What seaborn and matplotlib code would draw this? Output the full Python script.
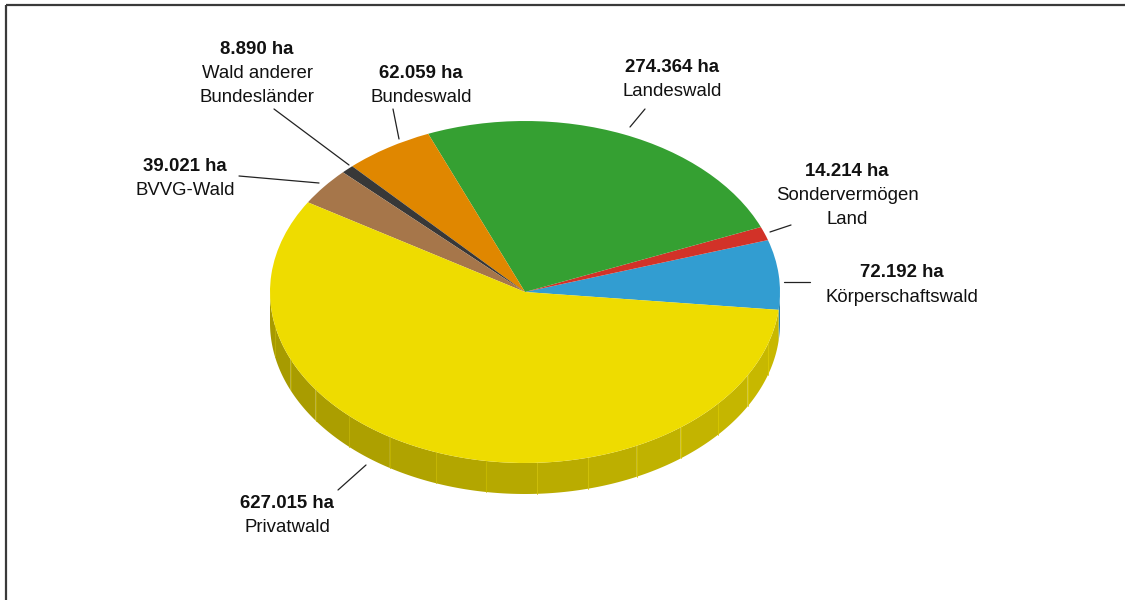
import matplotlib
matplotlib.use('Agg')
import matplotlib.pyplot as plt
import seaborn as sns
import numpy as np
from matplotlib.colors import to_rgb

# data, counterclockwise from the right-hand side
names = ["Körperschaftswald", "Sondervermögen\nLand", "Landeswald", "Bundeswald",
         "Wald anderer\nBundesländer", "BVVG-Wald", "Privatwald"]
values = [72192, 14214, 274364, 62059, 8890, 39021, 627015]
value_labels = ["72.192 ha", "14.214 ha", "274.364 ha", "62.059 ha",
                "8.890 ha", "39.021 ha", "627.015 ha"]
colors = ["#329dd1", "#d23228", "#35a032", "#e08700", "#383838", "#a6764a", "#eedc00"]

# layout (pixels, y down)
W, H = 1125, 600
CX, CY = 525, 292
RX, RY = 255, 171
DEPTH = 31
START = -6
S = RX / RY

label_pos = [(902, 273), (847, 171), (672, 67), (421, 73), (257, 50), (185, 167), (287, 503)]
leader = [((784, 282), (810, 282)), ((770, 232), (791, 225)), ((630, 127), (645, 109)),
          ((399, 139), (393, 109)), ((349, 165), (274, 109)), ((319, 183), (239, 176)),
          ((366, 465), (338, 490))]

sns.set_theme(style="white")
plt.rcParams['font.family'] = ['Liberation Sans', 'DejaVu Sans']


def d(px, py):
    return px, (H - py) * S


def shade(c, f):
    r, g, b = to_rgb(c)
    return (min(r * f, 1), min(g * f, 1), min(b * f, 1))


fig = plt.figure(figsize=(W / 100, H / 100), dpi=100)
ax = fig.add_axes([0, 0, 1, 1])

cx, cy = d(CX, CY)
dep = DEPTH * S

# side wall of the cylinder (front half only)
fracs = np.array(values) / np.sum(values)
edges = START + 360 * np.concatenate([[0], np.cumsum(fracs)])
for i, col in enumerate(colors):
    a0, a1 = edges[i], edges[i + 1]
    for lo, hi in [(-180, 0), (180, 360)]:
        s0, s1 = max(a0, lo), min(a1, hi)
        if s1 <= s0:
            continue
        steps = np.linspace(s0, s1, max(2, int((s1 - s0) / 12) + 2))
        for j, (t0, t1) in enumerate(zip(steps[:-1], steps[1:])):
            t = np.radians(np.linspace(t0, t1, 16))
            xs = cx + RX * np.cos(t)
            ys = cy + RX * np.sin(t)
            px = np.concatenate([xs, xs[::-1]])
            py = np.concatenate([ys, ys[::-1] - dep])
            f = 0.77 + 0.07 * np.cos(np.radians((t0 + t1) / 2))
            ax.fill(px, py, color=shade(col, f), zorder=1, lw=0)
            if j > 0:
                ax.plot([xs[0], xs[0]], [ys[0], ys[0] - dep], color=shade(col, f + 0.08),
                        lw=0.6, zorder=1.5)

# top face
ax.pie(values, colors=colors, startangle=START, counterclock=True, radius=RX,
       center=(cx, cy), wedgeprops=dict(linewidth=0, zorder=3), frame=True)

ax.set_xlim(0, W)
ax.set_ylim(0, H * S)
ax.set_aspect('auto')
ax.axis('off')

# labels and leader lines
for name, val, (lx, ly), (p0, p1) in zip(names, value_labels, label_pos, leader):
    ax.text(*d(lx, ly), val, ha='center', va='center', fontsize=13.4,
            fontweight='bold', color='#111111', zorder=5)
    for k, line in enumerate(name.split("\n")):
        ax.text(*d(lx, ly + 24 * (k + 1)), line, ha='center', va='center',
                fontsize=13.4, color='#111111', zorder=5)
    x0, y0 = d(*p0)
    x1, y1 = d(*p1)
    ax.plot([x0, x1], [y0, y1], color='#222222', lw=0.9, zorder=4)

# frame lines on top and left
ax.plot([6, W], [(H - 5) * S, (H - 5) * S], color='#3a3a3a', lw=1.6, zorder=6,
        solid_capstyle='butt')
ax.plot([6, 6], [(H - 5) * S, 0], color='#3a3a3a', lw=1.6, zorder=6,
        solid_capstyle='butt')

fig.savefig('out.png', dpi=100)
